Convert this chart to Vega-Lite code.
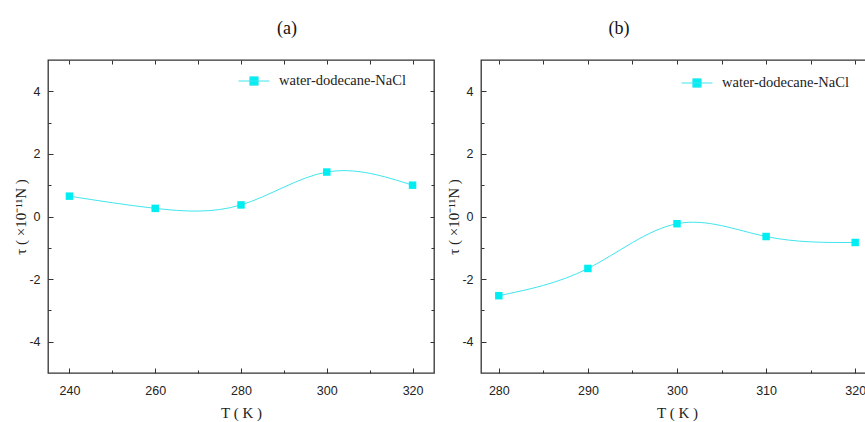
{
  "$schema": "https://vega.github.io/schema/vega-lite/v6.json",
  "padding": {"left": 13, "top": 18, "right": 0, "bottom": 0},
  "background": "white",
  "datasets": {
    "a": [
      {"T": 240, "tau": 0.65},
      {"T": 260, "tau": 0.26},
      {"T": 280, "tau": 0.37},
      {"T": 300, "tau": 1.42},
      {"T": 320, "tau": 1.0}
    ],
    "b": [
      {"T": 280, "tau": -2.53},
      {"T": 290, "tau": -1.66},
      {"T": 300, "tau": -0.23},
      {"T": 310, "tau": -0.64},
      {"T": 320, "tau": -0.83}
    ]
  },
  "spacing": 10,
  "resolve": {"legend": {"color": "independent"}, "scale": {"x": "independent", "y": "independent"}},
  "hconcat": [
    {
      "width": 386,
      "height": 313,
      "title": {"text": "(a)", "anchor": "middle", "dx": 46, "offset": 22},
      "data": {"name": "a"},
      "resolve": {"axis": {"x": "independent", "y": "independent"}},
      "layer": [
        {
          "mark": {"type": "line", "interpolate": "natural", "color": "#3fe6ee", "strokeWidth": 1},
          "encoding": {
            "x": {"field": "T", "type": "quantitative", "scale": {"domain": [235, 325], "nice": false, "zero": false},
              "axis": {"orient": "bottom", "values": [240, 260, 280, 300, 320], "tickSize": -5, "labelPadding": 16, "title": "T ( K )"}},
            "y": {"field": "tau", "type": "quantitative", "scale": {"domain": [-5, 5], "nice": false, "zero": false},
              "axis": {"orient": "left", "values": [-4, -2, 0, 2, 4], "tickSize": -5, "labelPadding": 13, "labelExpr": "replace(datum.label, '−', '-')", "title": "τ ( ×10⁻¹¹N )"}}
          }
        },
        {
          "mark": {"type": "square", "filled": true, "size": 56, "opacity": 1},
          "encoding": {
            "x": {"field": "T", "type": "quantitative", "scale": {"domain": [235, 325], "nice": false, "zero": false},
              "axis": {"orient": "top", "values": [240, 260, 280, 300, 320], "tickSize": -4, "labels": false, "title": null}},
            "y": {"field": "tau", "type": "quantitative", "scale": {"domain": [-5, 5], "nice": false, "zero": false},
              "axis": {"orient": "right", "values": [-4, -2, 0, 2, 4], "tickSize": -4, "labels": false, "title": null}},
            "color": {"datum": "water-dodecane-NaCl", "type": "nominal", "scale": {"range": ["#00eef2"]},
              "legend": {"orient": "none", "legendX": 190, "legendY": 5, "title": null, "symbolType": "M-1,0H1M-0.27,-0.27H0.27V0.27H-0.27Z", "symbolSize": 961, "symbolStrokeWidth": 1, "symbolStrokeColor": "#3fe6ee", "symbolFillColor": "#00eef2", "labelOffset": 9, "labelFont": "Liberation Serif", "labelFontSize": 14.5, "labelColor": "#222"}}
          }
        },
        {
          "mark": {"type": "line", "opacity": 0},
          "encoding": {
            "x": {"field": "T", "type": "quantitative", "scale": {"domain": [235, 325], "nice": false, "zero": false},
              "axis": {"orient": "bottom", "values": [250, 270, 290, 310], "tickSize": -3, "labels": false, "title": null}},
            "y": {"field": "tau", "type": "quantitative", "scale": {"domain": [-5, 5], "nice": false, "zero": false},
              "axis": {"orient": "left", "values": [-3, -1, 1, 3], "tickSize": -3, "labels": false, "title": null}}
          }
        },
        {
          "mark": {"type": "line", "opacity": 0},
          "encoding": {
            "x": {"field": "T", "type": "quantitative", "scale": {"domain": [235, 325], "nice": false, "zero": false},
              "axis": {"orient": "top", "values": [250, 270, 290, 310], "tickSize": -4, "labels": false, "title": null}},
            "y": {"field": "tau", "type": "quantitative", "scale": {"domain": [-5, 5], "nice": false, "zero": false},
              "axis": {"orient": "right", "values": [-3, -1, 1, 3], "tickSize": -3, "labels": false, "title": null}}
          }
        }
      ]
    },
    {
      "width": 392,
      "height": 313,
      "title": {"text": "(b)", "anchor": "middle", "dx": -58, "offset": 22},
      "data": {"name": "b"},
      "resolve": {"axis": {"x": "independent", "y": "independent"}},
      "layer": [
        {
          "mark": {"type": "line", "interpolate": "natural", "color": "#3fe6ee", "strokeWidth": 1},
          "encoding": {
            "x": {"field": "T", "type": "quantitative", "scale": {"domain": [278, 322], "nice": false, "zero": false},
              "axis": {"orient": "bottom", "values": [280, 290, 300, 310, 320], "tickSize": -5, "labelPadding": 16, "title": "T ( K )"}},
            "y": {"field": "tau", "type": "quantitative", "scale": {"domain": [-5, 5], "nice": false, "zero": false},
              "axis": {"orient": "left", "values": [-4, -2, 0, 2, 4], "tickSize": -5, "labelPadding": 13, "labelExpr": "replace(datum.label, '−', '-')", "title": "τ ( ×10⁻¹¹N )"}}
          }
        },
        {
          "mark": {"type": "square", "filled": true, "size": 56, "opacity": 1},
          "encoding": {
            "x": {"field": "T", "type": "quantitative", "scale": {"domain": [278, 322], "nice": false, "zero": false},
              "axis": {"orient": "top", "values": [280, 290, 300, 310, 320], "tickSize": -4, "labels": false, "title": null}},
            "y": {"field": "tau", "type": "quantitative", "scale": {"domain": [-5, 5], "nice": false, "zero": false},
              "axis": {"orient": "right", "values": [-4, -2, 0, 2, 4], "tickSize": -4, "labels": false, "title": null}},
            "color": {"datum": "water-dodecane-NaCl", "type": "nominal", "scale": {"range": ["#00eef2"]},
              "legend": {"orient": "none", "legendX": 200, "legendY": 7, "title": null, "symbolType": "M-1,0H1M-0.27,-0.27H0.27V0.27H-0.27Z", "symbolSize": 961, "symbolStrokeWidth": 1, "symbolStrokeColor": "#3fe6ee", "symbolFillColor": "#00eef2", "labelOffset": 9, "labelFont": "Liberation Serif", "labelFontSize": 14.5, "labelColor": "#222"}}
          }
        },
        {
          "mark": {"type": "line", "opacity": 0},
          "encoding": {
            "x": {"field": "T", "type": "quantitative", "scale": {"domain": [278, 322], "nice": false, "zero": false},
              "axis": {"orient": "bottom", "values": [285, 295, 305, 315], "tickSize": -3, "labels": false, "title": null}},
            "y": {"field": "tau", "type": "quantitative", "scale": {"domain": [-5, 5], "nice": false, "zero": false},
              "axis": {"orient": "left", "values": [-3, -1, 1, 3], "tickSize": -3, "labels": false, "title": null}}
          }
        },
        {
          "mark": {"type": "line", "opacity": 0},
          "encoding": {
            "x": {"field": "T", "type": "quantitative", "scale": {"domain": [278, 322], "nice": false, "zero": false},
              "axis": {"orient": "top", "values": [285, 295, 305, 315], "tickSize": -4, "labels": false, "title": null}},
            "y": {"field": "tau", "type": "quantitative", "scale": {"domain": [-5, 5], "nice": false, "zero": false},
              "axis": {"orient": "right", "values": [-3, -1, 1, 3], "tickSize": -3, "labels": false, "title": null}}
          }
        }
      ]
    }
  ],
  "config": {
    "view": {"stroke": "#333", "strokeWidth": 1.3},
    "axis": {
      "domain": false,
      "grid": false,
      "tickColor": "#333",
      "tickWidth": 1,
      "labelFont": "Liberation Sans",
      "labelFontSize": 12.5,
      "labelColor": "#222",
      "titleFont": "Liberation Serif",
      "titleFontSize": 15,
      "titleFontWeight": "normal",
      "titleColor": "#222"
    },
    "axisX": {"titlePadding": 9},
    "axisY": {"titlePadding": 0},
    "title": {"font": "Liberation Serif", "fontSize": 18, "fontWeight": "normal", "color": "#111"}
  }
}
